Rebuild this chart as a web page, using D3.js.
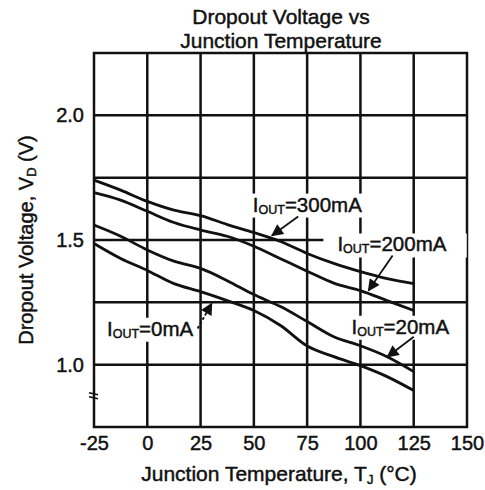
<!DOCTYPE html>
<html>
<head>
<meta charset="utf-8">
<script src="https://cdn.jsdelivr.net/npm/d3@7"></script>
<style>
  body { margin: 0; background: #fff; }
  text { font-family: "Liberation Sans", Arial, sans-serif; fill: #111; stroke: #111; stroke-width: 0.45px; }
</style>
</head>
<body>
<div class="svgShaper"></div>
<script>
// junction temperature (°C) sample points
var temps  = [-25, -12.5, 0, 12.5, 25, 37.5, 50, 62.5, 75, 87.5, 100, 112.5, 125];

// dropout voltage (V) for each output current
var vOut300 = [1.74, 1.70, 1.655, 1.62, 1.598, 1.562, 1.53, 1.494, 1.446, 1.406, 1.373, 1.345, 1.325];
var vOut200 = [1.69, 1.66, 1.615, 1.57, 1.54, 1.515, 1.475, 1.425, 1.375, 1.327, 1.297, 1.257, 1.217];
var vOut20  = [1.56, 1.515, 1.46, 1.415, 1.386, 1.337, 1.281, 1.233, 1.173, 1.112, 1.076, 1.032, 0.972];
var vOut0   = [1.486, 1.426, 1.378, 1.325, 1.293, 1.257, 1.217, 1.157, 1.075, 1.032, 0.996, 0.952, 0.896];

// axis ticks
var xTicks = [-25, 0, 25, 50, 75, 100, 125, 150];
var yGrid  = [0.75, 1.0, 1.25, 1.5, 1.75, 2.0, 2.25];
var yTicks = [1.0, 1.5, 2.0];

// graph dimensions
var margin = {top: 53, right: 18, bottom: 63, left: 94},
    width = 485 - margin.left - margin.right,
    height = 490 - margin.top - margin.bottom;

var svg = d3.select('.svgShaper')
            .append('svg')
            .attr('width', 485)
            .attr('height', 490);

var x = d3.scaleLinear().domain([-25, 150]).range([margin.left, margin.left + width]);
var y = d3.scaleLinear().domain([0.75, 2.25]).range([margin.top + height, margin.top]);

// title
svg.append('text').attr('x', 281).attr('y', 24).attr('text-anchor', 'middle')
   .style('font-size', '21px').text('Dropout Voltage vs');
svg.append('text').attr('x', 281).attr('y', 48).attr('text-anchor', 'middle')
   .style('font-size', '21px').text('Junction Temperature');

// grid lines
svg.selectAll('.vgrid').data(xTicks).enter().append('line')
   .attr('x1', function(d) { return x(d); }).attr('x2', function(d) { return x(d); })
   .attr('y1', y(2.25) - 1).attr('y2', y(0.75) + 1)
   .attr('stroke', '#111').attr('stroke-width', 2.5);

svg.selectAll('.hgrid').data(yGrid).enter().append('line')
   .attr('x1', x(-25) - 1).attr('x2', x(150) + 1)
   .attr('y1', function(d) { return y(d); }).attr('y2', function(d) { return y(d); })
   .attr('stroke', '#111').attr('stroke-width', 2.5);

// axis break mark
svg.append('line').attr('x1', x(-25) - 5).attr('x2', x(-25) + 4)
   .attr('y1', y(0.875) - 3).attr('y2', y(0.875) - 1).attr('stroke', '#111').attr('stroke-width', 1.6);
svg.append('line').attr('x1', x(-25) - 5).attr('x2', x(-25) + 4)
   .attr('y1', y(0.875) + 1).attr('y2', y(0.875) + 3).attr('stroke', '#111').attr('stroke-width', 1.6);

// tick labels
var xAxis = d3.axisBottom(x).tickValues(xTicks).tickSize(0).tickPadding(9);
var gx = svg.append('g').attr('transform', 'translate(0,' + y(0.75) + ')').call(xAxis);
gx.select('.domain').remove();
gx.selectAll('text').style('font-size', '20px').style('font-family', '"Liberation Sans", Arial, sans-serif')
  .attr('fill', '#111').text(function(d) { return d < 0 ? '-' + Math.abs(d) : d; });

var yAxis = d3.axisLeft(y).tickValues(yTicks).tickSize(0).tickPadding(10).tickFormat(d3.format('.1f'));
var gy = svg.append('g').attr('transform', 'translate(' + x(-25) + ',0)').call(yAxis);
gy.select('.domain').remove();
gy.selectAll('text').style('font-size', '20px').style('font-family', '"Liberation Sans", Arial, sans-serif')
  .attr('fill', '#111');

// axis titles
var xt = svg.append('text').attr('x', 279).attr('y', 481).attr('text-anchor', 'middle')
            .style('font-size', '21px');
xt.append('tspan').text('Junction Temperature, T');
xt.append('tspan').attr('dy', 3).style('font-size', '13px').text('J');
xt.append('tspan').attr('dy', -3).text(' (°C)');

var yt = svg.append('text').attr('transform', 'translate(33,' + y(1.5) + ') rotate(-90)')
            .attr('text-anchor', 'middle').style('font-size', '20px');
yt.append('tspan').text('Dropout Voltage, V');
yt.append('tspan').attr('dy', 3).style('font-size', '13px').text('D');
yt.append('tspan').attr('dy', -3).text(' (V)');

// current labels (data coordinates of text start and arrow)
var notes = [
  {amps: '300mA', tx: 49.5, ty: 1.614, ax1: 70.8, ay1: 1.594, ax2: 58.5, ay2: 1.518, padL: 4, padR: 2},
  {amps: '200mA', tx: 89.2, ty: 1.454, ax1: 115.1, ay1: 1.438, ax2: 103.8, ay2: 1.297, padL: 14, padR: 20},
  {amps: '20mA',  tx: 95.8, ty: 1.124, ax1: 125,   ay1: 1.112, ax2: 112.7, ay2: 1.032, padL: 3, padR: 3},
  {amps: '0mA',   tx: -18.9, ty: 1.116, ax1: 23.6, ay1: 1.145, ax2: 30.2, ay2: 1.245, padL: 3, padR: 3}
];

// arrow head
svg.append('defs').append('marker')
   .attr('id', 'head').attr('viewBox', '0 0 10 10').attr('refX', 9).attr('refY', 5)
   .attr('markerWidth', 14).attr('markerHeight', 12).attr('markerUnits', 'userSpaceOnUse')
   .attr('orient', 'auto')
   .append('path').attr('d', 'M0,0 L10,5 L0,10 Z').attr('fill', '#111');

var bgLayer = svg.append('g');
var curveLayer = svg.append('g');
var labelLayer = svg.append('g');

notes.forEach(function(n) {
    var t = labelLayer.append('text').attr('x', x(n.tx)).attr('y', y(n.ty)).style('font-size', '20.5px');
    t.append('tspan').text('I');
    t.append('tspan').attr('dy', 2).style('font-size', '12.5px').text('OUT');
    t.append('tspan').attr('dy', -2).text('=' + n.amps);
    var b = t.node().getBBox();
    bgLayer.append('rect').attr('x', b.x - n.padL).attr('y', b.y + 1)
           .attr('width', b.width + n.padL + n.padR).attr('height', b.height)
           .attr('fill', '#fff');
    labelLayer.append('line')
       .attr('x1', x(n.ax1)).attr('y1', y(n.ay1)).attr('x2', x(n.ax2)).attr('y2', y(n.ay2))
       .attr('stroke', '#111').attr('stroke-width', 1.8)
       .attr('stroke-dasharray', n.amps == '0mA' ? '3,2' : null)
       .attr('marker-end', 'url(#head)');
});

// the four curves
var line = d3.line()
             .x(function(d, i) { return x(temps[i]); })
             .y(function(d) { return y(d); })
             .curve(d3.curveCatmullRom);

[vOut300, vOut200, vOut20, vOut0].forEach(function(series) {
    curveLayer.append('path')
       .attr('d', line(series))
       .attr('fill', 'none').attr('stroke', '#111').attr('stroke-width', 2.8);
});
</script>
</body>
</html>
